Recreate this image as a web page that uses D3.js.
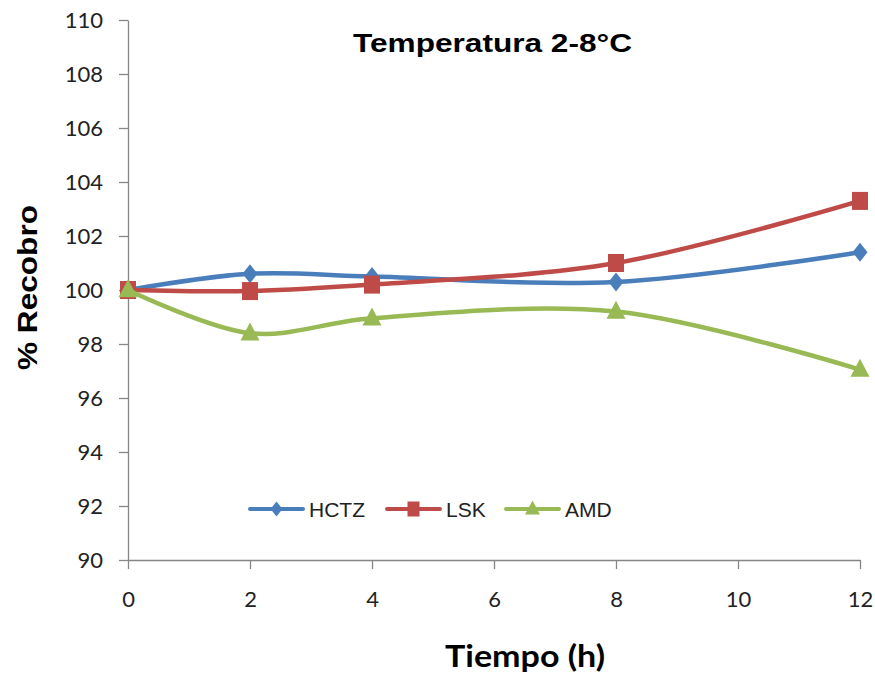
<!DOCTYPE html>
<html>
<head>
<meta charset="utf-8">
<script src="https://cdn.jsdelivr.net/npm/d3@7"></script>
<style>
  body { margin: 0; background: #fff; }
</style>
</head>
<body>
<div id="chart"></div>
<script>
// data
const tiempo = [0, 2, 4, 8, 12];
const hctz = [100.0, 100.6, 100.5, 100.3, 101.4];
const lsk = [100.0, 99.96, 100.2, 101.0, 103.3];
const amd = [100.0, 98.4, 98.95, 99.2, 97.05];
const xTicks = [0, 2, 4, 6, 8, 10, 12];
const yTicks = [90, 92, 94, 96, 98, 100, 102, 104, 106, 108, 110];
const seriesNames = ["HCTZ", "LSK", "AMD"];
const seriesColors = ["#4A7EBB", "#BE4B48", "#98B954"];
const seriesShapes = ["diamond", "square", "triangle"];

const width = 875;
const height = 675;
const margin = { top: 20, right: 15, bottom: 115, left: 128 };

const svg = d3.select("#chart")
  .append("svg")
    .attr("width", width)
    .attr("height", height)

const x = d3.scaleLinear().domain([0, 12]).range([margin.left, width - margin.right])
const y = d3.scaleLinear().domain([90, 110]).range([height - margin.bottom, margin.top])

const axisColor = "#868686";
const tickFont = "Lato, 'Open Sans', sans-serif";

/// axes
const yAxis = svg.append("g")
  .attr("transform", `translate(${margin.left},0)`)
  .call(d3.axisLeft(y).tickValues(yTicks).tickSize(9).tickSizeOuter(0).tickPadding(16))
yAxis.select(".domain").attr("stroke", axisColor).attr("stroke-width", 1.3)
yAxis.selectAll(".tick line").attr("stroke", axisColor).attr("stroke-width", 1.3)
yAxis.selectAll("text")
  .style("font-family", tickFont)
  .style("font-size", "22px")
  .attr("fill", "#222")

const xAxis = svg.append("g")
  .attr("transform", `translate(0,${y(90)})`)
  .call(d3.axisBottom(x).tickValues(xTicks).tickSize(9).tickSizeOuter(0).tickPadding(22))
xAxis.select(".domain").attr("stroke", axisColor).attr("stroke-width", 1.3)
xAxis.selectAll(".tick line").attr("stroke", axisColor).attr("stroke-width", 1.3)
xAxis.selectAll("text")
  .style("font-family", tickFont)
  .style("font-size", "22px")
  .attr("fill", "#222")

/// titles (stretched a little to the reference widths)
svg.append("text")
  .attr("x", 353).attr("y", 52)
  .attr("textLength", 279)
  .attr("lengthAdjust", "spacingAndGlyphs")
  .style("font-family", "'Liberation Sans', Arial, sans-serif")
  .style("font-weight", "bold")
  .style("font-size", "26px")
  .text("Temperatura 2-8°C")

svg.append("text")
  .attr("transform", "translate(37,370) rotate(-90)")
  .attr("textLength", 165)
  .attr("lengthAdjust", "spacingAndGlyphs")
  .style("font-family", "'Liberation Sans', Arial, sans-serif")
  .style("font-weight", "bold")
  .style("font-size", "27px")
  .text("% Recobro")

svg.append("text")
  .attr("x", 445).attr("y", 667)
  .attr("textLength", 160)
  .attr("lengthAdjust", "spacingAndGlyphs")
  .style("font-family", tickFont)
  .style("font-weight", "bold")
  .style("font-size", "30px")
  .text("Tiempo (h)")

/// series
const series = [hctz, lsk, amd].map((vals, i) => ({
  name: seriesNames[i],
  color: seriesColors[i],
  shape: seriesShapes[i],
  points: vals.map((v, j) => ({ t: tiempo[j], v: v }))
}))

// marker outlines, w x h in pixels
function markerPath(shape, w, h) {
  const p = d3.path();
  if (shape === "diamond") {
    p.moveTo(0, -h / 2); p.lineTo(w / 2, 0); p.lineTo(0, h / 2); p.lineTo(-w / 2, 0);
  } else if (shape === "square") {
    p.rect(-w / 2, -h / 2, w, h);
  } else {
    p.moveTo(0, -h * 0.6); p.lineTo(w / 2, h * 0.4); p.lineTo(-w / 2, h * 0.4);
  }
  p.closePath();
  return p.toString();
}
const plotSize = { diamond: [15, 19], square: [16, 18], triangle: [19, 18] };
const legendSize = { diamond: [12, 15], square: [12, 15], triangle: [15, 14] };

const line = d3.line()
  .x(d => x(d.t))
  .y(d => y(d.v))
  .curve(d3.curveCatmullRom.alpha(0.5))

const g = svg.selectAll("g.series")
  .data(series)
  .join("g")
    .attr("class", "series")

g.append("path")
  .attr("d", d => line(d.points))
  .attr("fill", "none")
  .attr("stroke", d => d.color)
  .attr("stroke-width", 4.5)
  .attr("stroke-linecap", "round")

g.selectAll("path.marker")
  .data(d => d.points.map(p => ({ ...p, color: d.color, shape: d.shape })))
  .join("path")
    .attr("class", "marker")
    .attr("transform", d => `translate(${x(d.t)},${y(d.v)})`)
    .attr("d", d => markerPath(d.shape, ...plotSize[d.shape]))
    .attr("fill", d => d.color)

/// legend
const legendX = [250, 387, 506];
const legendY = 509;
const legend = svg.selectAll("g.legend")
  .data(series)
  .join("g")
    .attr("class", "legend")
    .attr("transform", (d, i) => `translate(${legendX[i]},${legendY})`)

legend.append("line")
  .attr("x1", 0).attr("x2", 53)
  .attr("stroke", d => d.color)
  .attr("stroke-width", 4)
  .attr("stroke-linecap", "round")

legend.append("path")
  .attr("transform", "translate(26.5,0)")
  .attr("d", d => markerPath(d.shape, ...legendSize[d.shape]))
  .attr("fill", d => d.color)

legend.append("text")
  .attr("x", 59).attr("y", 8)
  .style("font-family", "'Liberation Sans', Arial, sans-serif")
  .style("font-size", "21px")
  .attr("fill", "#222")
  .text(d => d.name)
</script>
</body>
</html>
